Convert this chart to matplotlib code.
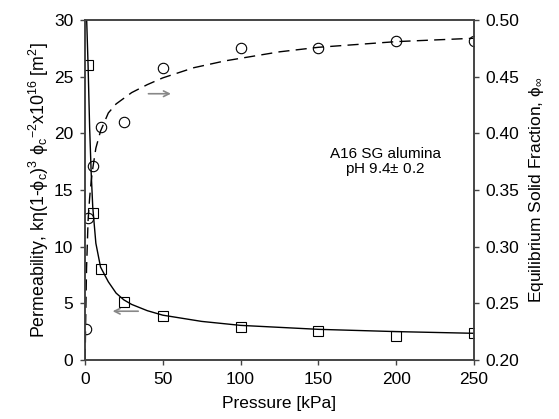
import numpy as np
import matplotlib.pyplot as plt

plt.rcParams['font.family'] = ['Liberation Sans', 'DejaVu Sans']
plt.rcParams['mathtext.default'] = 'regular'

###### measured points ######
p_perm = [2, 5, 10, 25, 50, 100, 150, 200, 250]
perm = [26.0, 13.0, 8.0, 5.15, 3.88, 2.94, 2.56, 2.12, 2.41]

p_phi = [0.5, 2, 5, 10, 25, 50, 100, 150, 200, 250]
phi = [0.227, 0.325, 0.371, 0.406, 0.410, 0.458, 0.475, 0.475, 0.482, 0.4815]

###### fitted curves ######
p_perm_fit = [1.1, 2, 3, 4, 5, 7, 10, 15, 20, 25, 30, 40, 50, 75, 100, 150, 200, 250]
perm_fit = [30, 26, 20.5, 16.5, 13.5, 10.3, 8.2, 6.9, 5.9, 5.3, 4.9, 4.35, 3.95,
            3.4, 3.05, 2.7, 2.5, 2.35]

p_phi_fit = [0.1, 0.4, 1, 2, 3, 4, 5, 7, 10, 15, 20, 30, 40, 50, 70, 90, 125, 150, 200, 250]
phi_fit = [0.200, 0.23, 0.28, 0.323, 0.343, 0.358, 0.369, 0.387, 0.402, 0.418, 0.426,
           0.436, 0.443, 0.449, 0.458, 0.464, 0.472, 0.476, 0.481, 0.484]

fig, ax = plt.subplots(figsize=(5.59, 4.19), dpi=100)
plt.subplots_adjust(left=0.152, right=0.848, top=0.952, bottom=0.141)
ax2 = ax.twinx()

ax.plot(p_perm_fit, perm_fit, color='k', lw=1.0, zorder=3)
ax.plot(p_perm, perm, ls='none', marker='s', ms=6.5, mfc='none', mec='k', mew=0.8, zorder=4)

ax2.plot(p_phi_fit, phi_fit, color='k', lw=1.0, dashes=(8, 4.5))
ax2.plot(p_phi, phi, ls='none', marker='o', ms=7.5, mfc='none', mec='k', mew=0.8)

ax.set_xlim(0, 250)
ax.set_ylim(0, 30)
ax2.set_ylim(0.2, 0.5)
ax.set_xticks(np.arange(0, 251, 50))
ax.set_yticks(np.arange(0, 31, 5))
ax2.set_yticks(np.arange(0.2, 0.501, 0.05))
ax2.set_yticklabels(['%.2f' % v for v in np.arange(0.2, 0.501, 0.05)])

for a in (ax, ax2):
    for s in a.spines.values():
        s.set_color('#444444')
        s.set_linewidth(1.2)
    a.tick_params(direction='out', length=3.5, width=1.0, color='#444444',
                  labelsize=12.5, pad=5)

ax.set_xlabel('Pressure [kPa]', fontsize=12.5, labelpad=7)
ax.set_ylabel(r'Permeability, k$\eta$(1-$\phi_c$)$^3$ $\phi_c$$^{-2}$x10$^{16}$ [m$^2$]',
              fontsize=12.8, labelpad=2)
ax2.set_ylabel(r'Equilibrium Solid Fraction, $\phi_\infty$', fontsize=12.5, labelpad=5)

###### arrows pointing to the axis of each curve ######
ax.annotate('', xy=(57, 23.5), xytext=(39, 23.5),
            arrowprops=dict(arrowstyle='->', color='#888888', lw=1.2))
ax.annotate('', xy=(16, 4.3), xytext=(36, 4.3),
            arrowprops=dict(arrowstyle='->', color='#888888', lw=1.2))

ax.text(193, 17.4, 'A16 SG alumina\npH 9.4$\\pm$ 0.2', ha='center', va='center',
        fontsize=11, linespacing=1.0)

plt.savefig('out.png', dpi=100)
